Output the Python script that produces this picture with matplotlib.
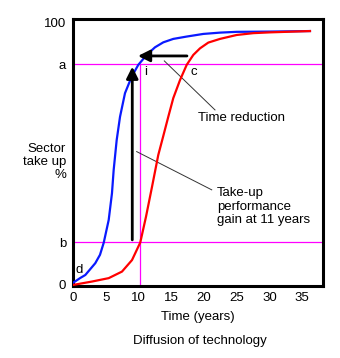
import matplotlib
matplotlib.use("Agg")
import matplotlib.pyplot as plt

plt.rcParams['font.family'] = ['Liberation Sans', 'DejaVu Sans']

# Data
blue_x = [0, 1.07, 1.88, 3.40, 4.12, 4.69, 5.45, 5.95, 6.21, 6.67, 7.18, 7.94, 8.96,
          9.97, 11.25, 12.52, 13.79, 15.31, 17.36, 19.89, 22.44, 24.99, 30.08, 36.18]
blue_y = [0.8, 2.6, 3.8, 8.3, 11.5, 16.1, 24.8, 35.0, 43.9, 55.3, 64.2, 73.2, 79.5,
          84.0, 87.8, 90.7, 92.6, 93.9, 94.8, 95.8, 96.3, 96.6, 96.7, 96.9]
red_x = [0, 2.90, 5.45, 7.48, 9.01, 10.27, 11.15, 12.06, 13.02, 13.79, 14.55, 15.31,
         16.34, 17.36, 18.37, 19.39, 20.66, 22.44, 24.99, 27.53, 30.08, 36.18]
red_y = [0, 1.3, 2.6, 5.1, 9.5, 16.2, 26.1, 37.4, 49.6, 56.9, 64.2, 71.3,
         78.2, 84.0, 87.8, 90.3, 92.5, 93.9, 95.4, 96.1, 96.4, 96.9]

level_a = 84.2
level_b = 16.3
gain_year = 10.23
x_ticks = [0, 5, 10, 15, 20, 25, 30, 35]
y_ticks = [0, level_b, level_a, 100]
y_tick_labels = ['0', 'b', 'a', '100']

fig = plt.figure(figsize=(3.4, 3.58), dpi=100)
ax = fig.add_axes([73/340, 1-286/358, 250/340, 267/358])
ax.set_xlim(0, 38.17)
ax.set_ylim(-0.4, 101.5)

ax.axhline(level_a, color='#ff00ff', lw=0.9, zorder=1)
ax.axhline(level_b, color='#ff00ff', lw=0.9, zorder=1)
ax.plot([gain_year, gain_year], [-0.4, level_a], color='#ff00ff', lw=0.9, zorder=1)

ax.plot(blue_x, blue_y, color='#0a1aff', lw=1.6, zorder=3, solid_joinstyle='round')
ax.plot(red_x, red_y, color='#ff0000', lw=1.6, zorder=3, solid_joinstyle='round')

# arrows
ax.annotate('', xy=(9.92, 87.4), xytext=(17.4, 87.4),
            arrowprops=dict(arrowstyle='-|>,head_length=0.7,head_width=0.35',
                            color='black', lw=2.0, shrinkA=0, shrinkB=0), zorder=4)
ax.annotate('', xy=(9.05, 83.3), xytext=(9.05, 17.2),
            arrowprops=dict(arrowstyle='-|>,head_length=0.7,head_width=0.35',
                            color='black', lw=2.0, shrinkA=0, shrinkB=0), zorder=4)

# pointer lines
ax.plot([13.94, 21.68], [85.5, 66.8], color='#333333', lw=0.7, zorder=2)
ax.plot([9.72, 21.18], [50.9, 36.3], color='#333333', lw=0.7, zorder=2)

fs = 9.5
ax.text(19.04, 63.7, 'Time reduction', fontsize=fs, ha='left', va='center')
ax.text(21.98, 29.9, 'Take-up\nperformance\ngain at 11 years', fontsize=fs,
        ha='left', va='center', linespacing=1.15)
ax.text(11.1, 81.4, 'i', fontsize=fs, ha='center', va='center')
ax.text(18.37, 81.3, 'c', fontsize=fs, ha='center', va='center')
ax.text(0.96, 5.7, 'd', fontsize=fs, ha='center', va='center')

ax.set_xticks(x_ticks)
ax.set_yticks(y_ticks)
ax.set_yticklabels(y_tick_labels)
ax.tick_params(length=0, labelsize=fs)
ax.tick_params(axis='y', pad=5)
ax.tick_params(axis='x', pad=4)
for s in ax.spines.values():
    s.set_linewidth(2.2)
    s.set_color('black')

fig.text(198/340, 1-316.7/358, 'Time (years)', fontsize=fs, ha='center', va='center')
fig.text(200/340, 1-340.7/358, 'Diffusion of technology', fontsize=fs, ha='center', va='center')
fig.text(66/340, 1-162/358, 'Sector\ntake up\n%', fontsize=fs, ha='right', va='center',
         multialignment='right', linespacing=1.15)

fig.savefig('out.png', dpi=100, facecolor='white')
